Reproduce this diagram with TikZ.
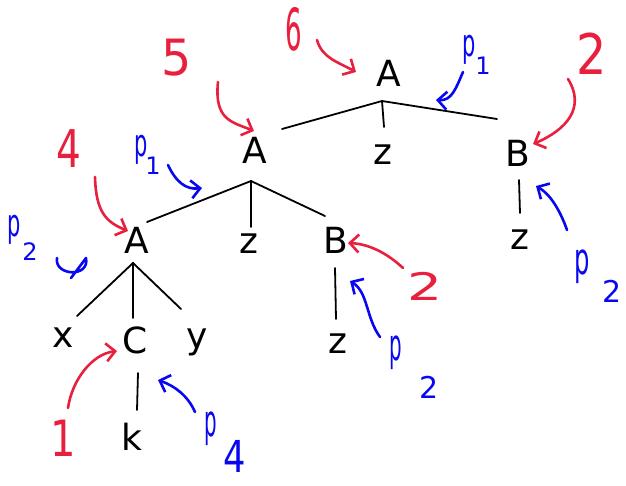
\documentclass[tikz,border=0pt]{standalone}
\usepackage{fontspec}
\setmainfont{DejaVu Sans}
\usetikzlibrary{arrows.meta}
\definecolor{redpen}{RGB}{232,32,62}
\definecolor{bluepen}{RGB}{8,8,240}
\newcommand{\hsq}[2]{\scalebox{#1}[1]{#2}}
\begin{document}
\begin{tikzpicture}[x=1pt,y=-1pt,
  sym/.style={font=\fontsize{36}{40}\selectfont, inner sep=0pt},
  edge/.style={line width=1.8pt, line cap=round},
  rnum/.style={text=redpen, inner sep=0pt},
  bnum/.style={text=bluepen, inner sep=0pt},
  rpen/.style={draw=redpen, line width=2.6pt, line cap=round, line join=round},
  bpen/.style={draw=bluepen, line width=2.6pt, line cap=round, line join=round},
  tipr/.style={-{Straight Barb[length=9pt,width=18pt,line width=2.6pt]}},
  ]
\useasboundingbox (0,0) rectangle (626,485);

% tree symbols
\node[sym] (A0) at (389,73) {A};
\node[sym] (A1) at (255,150) {A};
\node[sym] (z1) at (383,155) {z};
\node[sym] (B1) at (518,153) {B};
\node[sym] (z2) at (520,240) {z};
\node[sym] (A2) at (137,240) {A};
\node[sym] (z3) at (249,244) {z};
\node[sym] (B2) at (336,240) {B};
\node[sym] (z4) at (338,344) {z};
\node[sym] (x) at (63,338) {x};
\node[sym] (C) at (135,340) {C};
\node[sym] (y) at (197,342) {y};
\node[sym] (k) at (132,437) {k};

% junctions and edge ends
\coordinate (j0) at (382,101);
\coordinate (e0l) at (282,129);
\coordinate (e0m) at (384,127);
\coordinate (e0r) at (497,119);
\coordinate (jB1) at (519,180);
\coordinate (eB1) at (520,213);
\coordinate (j1) at (251,181);
\coordinate (e1l) at (147,222);
\coordinate (e1m) at (251,227);
\coordinate (e1r) at (325,216);
\coordinate (jB2) at (335,268);
\coordinate (eB2) at (336,319);
\coordinate (j2) at (133,263);
\coordinate (e2l) at (77,316);
\coordinate (e2m) at (133,318);
\coordinate (e2r) at (181,309);
\coordinate (jC) at (138,373);
\coordinate (eC) at (137,410);

\draw[edge] (e0l) -- (j0) -- (e0r);
\draw[edge] (j0) -- (e0m);
\draw[edge] (jB1) -- (eB1);
\draw[edge] (e1l) -- (j1) -- (e1r);
\draw[edge] (j1) -- (e1m);
\draw[edge] (jB2) -- (eB2);
\draw[edge] (e2l) -- (j2) -- (e2r);
\draw[edge] (j2) -- (e2m);
\draw[edge] (jC) -- (eC);

% red order numbers
\node[rnum, font=\fontsize{58}{60}\selectfont] (n6) at (294,29) {\hsq{0.45}{6}};
\node[rnum, font=\fontsize{50}{55}\selectfont] (n5) at (177,58) {\hsq{0.95}{5}};
\node[rnum, font=\fontsize{52}{55}\selectfont] (n4) at (69,149) {\hsq{0.75}{4}};
\node[rnum, font=\fontsize{56}{58}\selectfont] (n2a) at (592,54) {\hsq{0.85}{2}};
\node[rnum, font=\fontsize{38}{44}\selectfont] (n2b) at (425,286) {\hsq{1.45}{2}};
\node[rnum, font=\fontsize{50}{52}\selectfont] (n1) at (63,438) {\hsq{0.8}{1}};

\coordinate (r6s) at (317,40);
\coordinate (r6e) at (356,72);
\draw[rpen, tipr] (r6s) .. controls (322,58) and (338,62) .. (r6e);
\coordinate (r5s) at (218,82);
\coordinate (r5e) at (254,131);
\draw[rpen, tipr] (r5s) .. controls (214,120) and (232,122) .. (r5e);
\coordinate (r4s) at (95,177);
\coordinate (r4e) at (128,231);
\draw[rpen, tipr] (r4s) .. controls (96,212) and (106,222) .. (r4e);
\coordinate (r2as) at (568,79);
\coordinate (r2ae) at (533,144);
\draw[rpen, tipr] (r2as) .. controls (586,108) and (566,130) .. (r2ae);
\coordinate (r2bs) at (403,268);
\coordinate (r2be) at (348,243);
\draw[rpen, tipr] (r2bs) .. controls (388,254) and (370,244) .. (r2be);
\coordinate (r1s) at (68,408);
\coordinate (r1e) at (117,351);
\draw[rpen, tipr] (r1s) .. controls (72,380) and (92,354) .. (r1e);

% blue production labels
\node[bnum, font=\fontsize{38}{40}\selectfont, anchor=base] (p1a) at (469,56) {\hsq{0.55}{p}};
\node[bnum, font=\fontsize{24}{28}\selectfont, anchor=base] (p1as) at (483,74) {1};
\node[bnum, font=\fontsize{38}{40}\selectfont, anchor=base] (p1b) at (141,156) {\hsq{0.55}{p}};
\node[bnum, font=\fontsize{24}{28}\selectfont, anchor=base] (p1bs) at (153,174) {1};
\node[bnum, font=\fontsize{38}{40}\selectfont, anchor=base] (p2a) at (14,236) {\hsq{0.55}{p}};
\node[bnum, font=\fontsize{24}{28}\selectfont, anchor=base] (p2as) at (30,260) {2};
\node[bnum, font=\fontsize{44}{46}\selectfont, anchor=base] (p2b) at (582,274) {\hsq{0.55}{p}};
\node[bnum, font=\fontsize{30}{34}\selectfont, anchor=base] (p2bs) at (612,302) {2};
\node[bnum, font=\fontsize{44}{46}\selectfont, anchor=base] (p2c) at (396,360) {\hsq{0.45}{p}};
\node[bnum, font=\fontsize{30}{34}\selectfont, anchor=base] (p2cs) at (429,398) {2};
\node[bnum, font=\fontsize{44}{46}\selectfont, anchor=base] (p4) at (211,436) {\hsq{0.45}{p}};
\node[bnum, font=\fontsize{44}{46}\selectfont, anchor=base] (p4s) at (235,472) {\hsq{0.8}{4}};

\coordinate (b1as) at (463,72);
\coordinate (b1ae) at (436,100);
\draw[bpen, tipr] (b1as) .. controls (456,88) and (452,101) .. (b1ae);
\coordinate (b1bs) at (168,165);
\coordinate (b1be) at (202,188);
\draw[bpen, tipr] (b1bs) .. controls (176,182) and (186,190) .. (b1be);
\coordinate (b2as) at (57,258);
\coordinate (b2ae) at (71,278);
\draw[bpen] (b2as) .. controls (54,276) and (90,278) .. (86,258) -- (b2ae);
\coordinate (b2bs) at (567,230);
\coordinate (b2be) at (536,186);
\draw[bpen, tipr] (b2bs) .. controls (560,210) and (550,194) .. (b2be);
\coordinate (b2cs) at (380,337);
\coordinate (b2ce) at (350,281);
\draw[bpen, tipr] (b2cs) .. controls (366,318) and (368,292) .. (b2ce);
\coordinate (b4s) at (195,412);
\coordinate (b4e) at (158,380);
\draw[bpen, tipr] (b4s) .. controls (188,396) and (175,386) .. (b4e);
\end{tikzpicture}
\end{document}
